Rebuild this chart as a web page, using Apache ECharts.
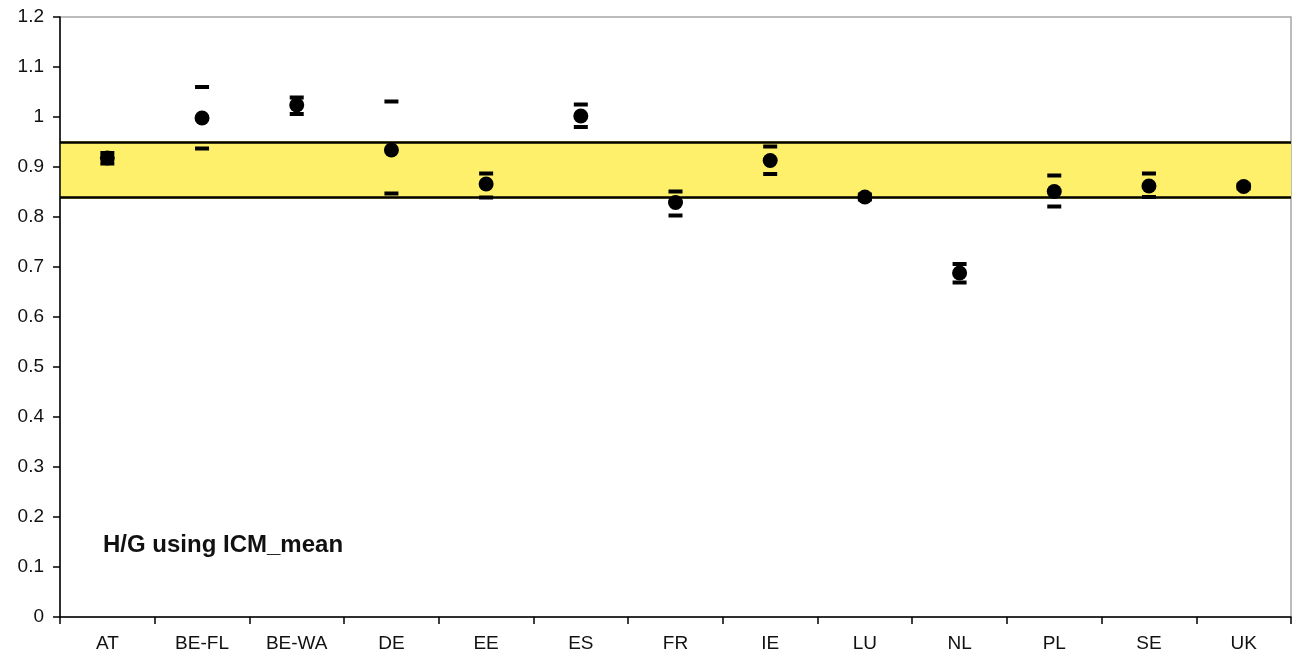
<!DOCTYPE html>
<html>
<head>
<meta charset="utf-8">
<script src="https://cdn.jsdelivr.net/npm/echarts@6/dist/echarts.min.js"></script>
<style>
html,body{margin:0;padding:0;background:#fff;}
#chart{width:1295px;height:655px;}
</style>
</head>
<body>
<div id="chart"></div>
<script>
var categories = ['AT','BE-FL','BE-WA','DE','EE','ES','FR','IE','LU','NL','PL','SE','UK'];
var meanValues = [0.918, 0.998, 1.024, 0.934, 0.866, 1.002, 0.829, 0.913, 0.840, 0.688, 0.851, 0.862, 0.861];
var upperValues = [0.928, 1.060, 1.039, 1.031, 0.887, 1.025, 0.851, 0.941, 0.845, 0.706, 0.883, 0.887, 0.865];
var lowerValues = [0.907, 0.937, 1.006, 0.847, 0.839, 0.980, 0.803, 0.886, 0.835, 0.669, 0.821, 0.840, 0.857];
var bandLow = 0.836;
var bandHigh = 0.952;
var yTicks = {min: 0, max: 1.2, interval: 0.1};
var annotation = 'H/G using ICM_mean';

var chart = echarts.init(document.getElementById('chart'), null, {renderer: 'canvas'});
var font = '"Liberation Sans", Arial, Helvetica, sans-serif';
chart.setOption({
  animation: false,
  backgroundColor: '#ffffff',
  grid: {left: 60, right: 4, top: 17, bottom: 38, show: true, borderColor: '#a6a6a6', borderWidth: 1.5, backgroundColor: 'transparent'},
  xAxis: {
    type: 'category',
    data: categories,
    boundaryGap: true,
    axisLine: {show: true, lineStyle: {color: '#000', width: 1.5}},
    axisTick: {show: true, interval: 0, length: 7, lineStyle: {color: '#000', width: 1.5}},
    axisLabel: {interval: 0, color: '#111', fontSize: 19, fontFamily: font, margin: 17},
    splitLine: {show: false},
    z: 10
  },
  yAxis: {
    type: 'value',
    min: yTicks.min, max: yTicks.max, interval: yTicks.interval,
    axisLine: {show: true, lineStyle: {color: '#000', width: 1.5}},
    axisTick: {show: true, length: 7, lineStyle: {color: '#000', width: 1.5}},
    axisLabel: {color: '#111', fontSize: 19, fontFamily: font, margin: 16,
      formatter: function (v) { return String(Math.round(v * 10) / 10); }},
    splitLine: {show: false},
    z: 10
  },
  graphic: [{
    type: 'text', left: 103, top: 533,
    style: {text: annotation, font: 'bold 24px ' + font, fill: '#111'}
  }],
  series: [
    {
      type: 'line',
      data: [],
      silent: true,
      z: 1,
      markArea: {
        silent: true,
        itemStyle: {color: '#FEF06A', borderWidth: 0, opacity: 1},
        data: [[{yAxis: bandLow}, {yAxis: bandHigh}]]
      },
      markLine: {
        silent: true,
        symbol: ['none', 'none'],
        label: {show: false},
        lineStyle: {color: '#000', width: 2.5, type: 'solid', opacity: 1},
        data: [{yAxis: bandLow}, {yAxis: bandHigh}]
      }
    },
    {
      type: 'scatter', name: 'upper', data: upperValues,
      symbol: 'rect', symbolSize: [14, 4],
      itemStyle: {color: '#000', opacity: 1}, z: 5
    },
    {
      type: 'scatter', name: 'lower', data: lowerValues,
      symbol: 'rect', symbolSize: [14, 4],
      itemStyle: {color: '#000', opacity: 1}, z: 5
    },
    {
      type: 'scatter', name: 'mean', data: meanValues,
      symbol: 'circle', symbolSize: 15,
      itemStyle: {color: '#000', opacity: 1}, z: 6
    }
  ]
});
</script>
</body>
</html>
